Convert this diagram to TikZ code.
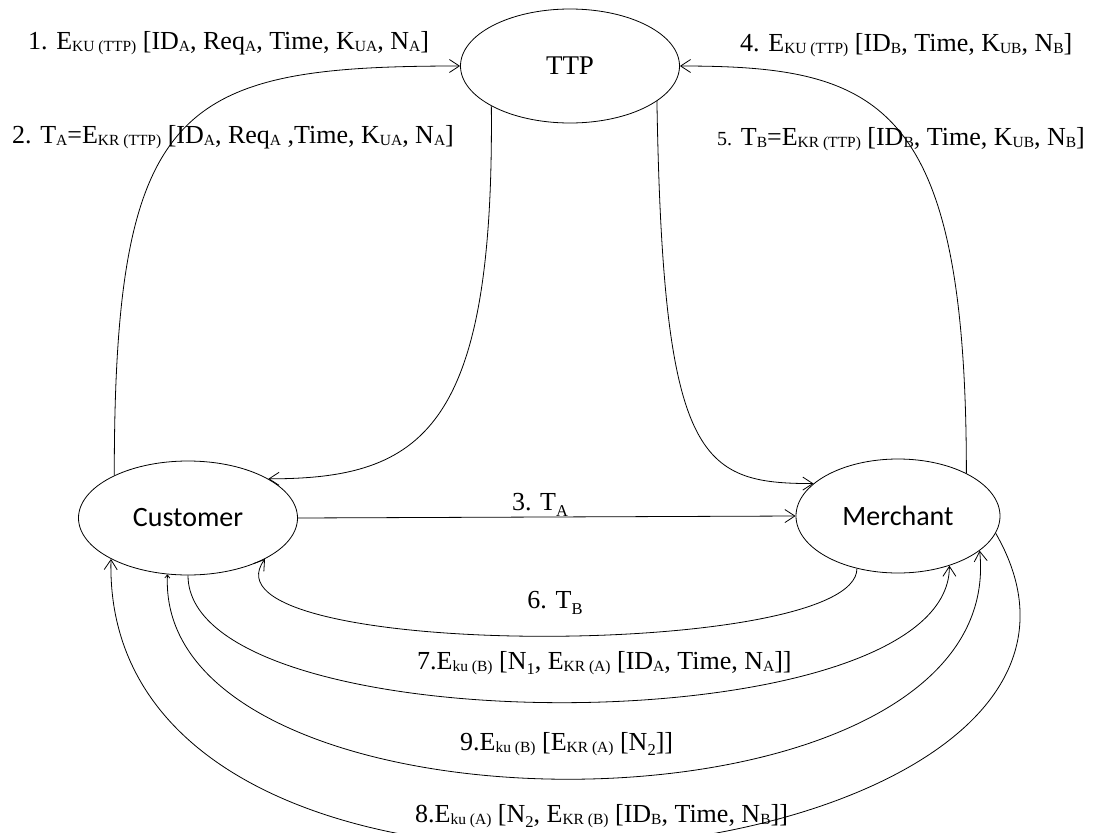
\documentclass[tikz,border=0pt]{standalone}
\usepackage{fontspec}
\setmainfont{Liberation Serif}
\newfontfamily\partyfont{Carlito}
\usetikzlibrary{arrows.meta,shapes.geometric}
\definecolor{payInk}{HTML}{000000}
\newcommand{\lo}[1]{\raisebox{-0.08em}{\fontsize{15.5}{15.5}\selectfont #1}}
\newcommand{\dn}[1]{\raisebox{-0.22em}{\fontsize{16.5}{16.5}\selectfont #1}}
\tikzset{
  pay party/.style={ellipse, draw=payInk, line width=0.8pt, minimum width=219pt, minimum height=114pt, inner sep=0pt, font=\fontsize{27}{30}\selectfont},
  pay msg/.style={draw=payInk, line width=0.8pt, -{Straight Barb[length=10pt,width=13pt]}},
  pay both/.style={pay msg, {Straight Barb[length=3pt,width=5pt]}-{Straight Barb[length=10pt,width=13pt]}},
  pay label/.style={font=\fontsize{26}{30}\selectfont, text=payInk, inner sep=0pt},
}

\begin{document}
\begin{tikzpicture}[x=1pt,y=-1pt]
  \useasboundingbox (0,0) rectangle (1120,833);
  \node[pay party] (ttp) at (570,66) {TTP};
  \node[pay party, font=\fontsize{28}{30}\selectfont\partyfont] (cust) at (188,518) {Customer};
  \node[pay party, font=\fontsize{28}{30}\selectfont\partyfont, minimum width=204pt] (merch) at (898,516) {Merchant};

  % registration with the TTP
  \draw[pay msg] (cust.150) .. controls +(0,-373) and +(-281,0) .. (ttp.west);
  \draw[pay msg] (ttp.207) .. controls +(3,324) and +(154,0) .. (cust.26);
  \draw[pay msg] (merch.32) .. controls +(0,-373) and +(200,0) .. (ttp.east);
  \draw[pay msg] (ttp.338) .. controls +(6,359) and +(-114,0) .. (merch.159);

  % exchange between the parties
  \draw[pay msg] (cust.east) -- (merch.west);
  \draw[pay msg] (merch.232) .. controls +(0,92) and +(-75,101) .. (cust.332);
  \draw[pay msg] (cust.south) .. controls +(0,171) and +(0,181) .. (merch.316);
  \draw[pay both] (cust.250) .. controls +(-13,276) and +(31,301) .. (merch.337);
  \draw[pay msg] (merch.350) .. controls +(200,347) and +(-11,450) .. (cust.208);

  \node[pay label, anchor=west] (m1) at (28,43) {1. E\lo{KU (TTP)} [ID\lo{A}, Req\lo{A}, Time, K\lo{UA}, N\lo{A}]};
  \node[pay label, anchor=west] (m2) at (12,137) {2. T\lo{A}=E\lo{KR (TTP)} [ID\lo{A}, Req\lo{A} ,Time, K\lo{UA}, N\lo{A}]};
  \node[pay label] (m3) at (540,505) {3. T\dn{A}};
  \node[pay label, anchor=west] (m4) at (740,45) {4. E\lo{KU (TTP)} [ID\lo{B}, Time, K\lo{UB}, N\lo{B}]};
  \node[pay label, anchor=west] (m5) at (717,139) {{\fontsize{20}{24}\selectfont 5.} T\lo{B}=E\lo{KR (TTP)} [ID\lo{B}, Time, K\lo{UB}, N\lo{B}]};
  \node[pay label] (m6) at (555,603) {6. T\dn{B}};
  \node[pay label, anchor=west] (m7) at (417,663) {7.E\lo{ku (B)} [N\dn{1}, E\lo{KR (A)} [ID\lo{A}, Time, N\lo{A}]]};
  \node[pay label, anchor=west] (m9) at (460,744) {9.E\lo{ku (B)} [E\lo{KR (A)} [N\dn{2}]]};
  \node[pay label, anchor=west] (m8) at (415,816) {8.E\lo{ku (A)} [N\dn{2}, E\lo{KR (B)} [ID\lo{B}, Time, N\lo{B}]]};
\end{tikzpicture}
\end{document}
